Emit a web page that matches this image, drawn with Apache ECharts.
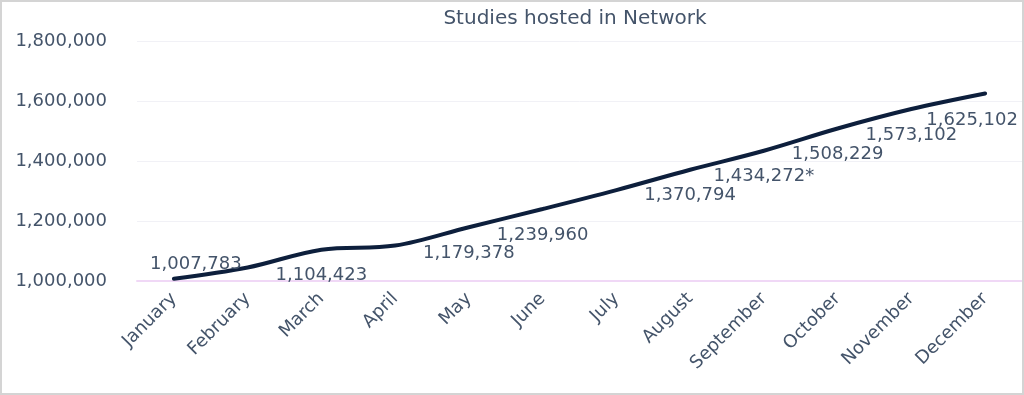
<!DOCTYPE html>
<html>
<head>
<meta charset="utf-8">
<script src="https://cdn.jsdelivr.net/npm/echarts@6/dist/echarts.min.js"></script>
<style>
  html, body { margin: 0; padding: 0; background: #ffffff; }
  #wrap { position: relative; width: 1024px; height: 395px; }
  #chart { position: absolute; left: 0; top: 0; width: 1024px; height: 395px; }
  #frame { position: absolute; left: 0; top: 0; width: 1024px; height: 395px; box-sizing: border-box;
           border: 2px solid #d4d4d4; pointer-events: none; }
</style>
</head>
<body>
<div id="wrap">
  <div id="chart"></div>
  <div id="frame"></div>
</div>
<script>
const titleText = "Studies hosted in Network";
const months = ["January", "February", "March", "April", "May", "June", "July", "August", "September", "October", "November", "December"];
const studies = [1007783, 1045000, 1104423, 1118000, 1179378, 1239960, 1303000, 1370794, 1434272, 1508229, 1573102, 1625102];
const pointLabels = ["1,007,783", "", "1,104,423", "", "1,179,378", "1,239,960", "", "1,370,794", "1,434,272*", "1,508,229", "1,573,102", "1,625,102"];
const yTicks = { min: 1000000, max: 1800000, interval: 200000 };

const textColor = "#44546a";
const fontFamily = "DejaVu Sans";

function labelShift(i) {
  if (i === 0) return [22, -14];
  if (i === months.length - 1) return [-13, 27];
  return [0, 26];
}

const seriesData = studies.map(function (v, i) {
  return {
    value: v,
    label: {
      show: pointLabels[i] !== "",
      formatter: pointLabels[i]
    }
  };
});

const chart = echarts.init(document.getElementById("chart"), null, { renderer: "canvas" });
chart.setOption({
  animation: false,
  backgroundColor: "#ffffff",
  title: {
    text: titleText,
    left: 570,
    textAlign: "center",
    top: 4,
    textStyle: { color: textColor, fontFamily: fontFamily, fontSize: 20, fontWeight: "normal" }
  },
  grid: { left: 137, right: 2, top: 41, bottom: 114, containLabel: false },
  xAxis: {
    type: "category",
    data: months,
    boundaryGap: true,
    axisLine: { show: true, lineStyle: { color: "#f0d8f6", width: 2 } },
    axisTick: { show: false },
    axisLabel: {
      rotate: 45,
      margin: 15,
      interval: 0,
      color: textColor,
      fontFamily: fontFamily,
      fontSize: 18
    },
    splitLine: { show: false }
  },
  yAxis: {
    type: "value",
    min: yTicks.min,
    max: yTicks.max,
    interval: yTicks.interval,
    axisLine: { show: false },
    axisTick: { show: false },
    axisLabel: {
      margin: 30,
      color: textColor,
      fontFamily: fontFamily,
      fontSize: 18,
      formatter: function (v) { return v.toLocaleString("en-US"); }
    },
    splitLine: { show: true, lineStyle: { color: "#f1f1f6", width: 1 } }
  },
  series: [{
    type: "line",
    data: seriesData,
    smooth: 0.35,
    symbol: "circle",
    symbolSize: 1,
    showSymbol: true,
    itemStyle: { color: "rgba(0,0,0,0)", borderWidth: 0 },
    lineStyle: { color: "#0d1f3c", width: 4, cap: "round" },
    label: {
      position: "inside",
      color: textColor,
      fontFamily: fontFamily,
      fontSize: 18
    },
    labelLayout: function (params) {
      const s = labelShift(params.dataIndex);
      return { dx: s[0], dy: s[1], hideOverlap: false };
    },
    z: 3
  }]
});
</script>
</body>
</html>
